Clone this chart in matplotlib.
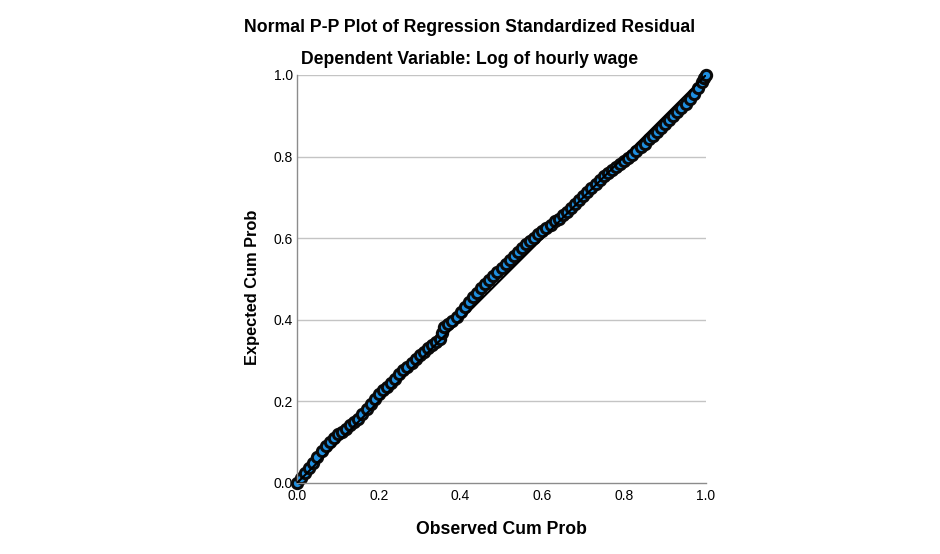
import matplotlib
matplotlib.use("Agg")
import matplotlib.pyplot as plt

plt.rcParams['font.family'] = ['Liberation Sans', 'DejaVu Sans']

title = "Normal P-P Plot of Regression Standardized Residual"
subtitle = "Dependent Variable: Log of hourly wage"
x_label = "Observed Cum Prob"
y_label = "Expected Cum Prob"
ticks = [0.0, 0.2, 0.4, 0.6, 0.8, 1.0]
tick_labels = ["0.0", "0.2", "0.4", "0.6", "0.8", "1.0"]

observed = [0.00, 0.01, 0.02, 0.03, 0.04, 0.05, 0.06, 0.07, 0.08, 0.09,
            0.10, 0.11, 0.12, 0.13, 0.14, 0.15, 0.16, 0.17, 0.18, 0.19,
            0.20, 0.21, 0.22, 0.23, 0.24, 0.25, 0.26, 0.27, 0.28, 0.29,
            0.30, 0.31, 0.32, 0.33, 0.34, 0.35, 0.355, 0.36, 0.37, 0.38, 0.39,
            0.40, 0.41, 0.42, 0.43, 0.44, 0.45, 0.46, 0.47, 0.48, 0.49,
            0.50, 0.51, 0.52, 0.53, 0.54, 0.55, 0.56, 0.57, 0.58, 0.59,
            0.60, 0.61, 0.62, 0.63, 0.64, 0.65, 0.66, 0.67, 0.68, 0.69,
            0.70, 0.71, 0.72, 0.73, 0.74, 0.75, 0.76, 0.77, 0.78, 0.79,
            0.80, 0.81, 0.82, 0.83, 0.84, 0.85, 0.86, 0.87, 0.88, 0.89,
            0.90, 0.91, 0.92, 0.93, 0.94, 0.95, 0.96, 0.97, 0.98, 0.99, 0.995, 1.00]
expected = [0.000, 0.013, 0.025, 0.037, 0.050, 0.064, 0.078, 0.090, 0.101, 0.110,
            0.119, 0.126, 0.133, 0.141, 0.149, 0.158, 0.169, 0.181, 0.193, 0.206,
            0.218, 0.227, 0.236, 0.245, 0.255, 0.266, 0.276, 0.285, 0.295, 0.305,
            0.314, 0.322, 0.330, 0.338, 0.345, 0.352, 0.368, 0.382, 0.390, 0.398, 0.408,
            0.420, 0.432, 0.444, 0.455, 0.466, 0.477, 0.487, 0.497, 0.507, 0.517,
            0.527, 0.537, 0.547, 0.557, 0.567, 0.577, 0.585, 0.593, 0.601, 0.610,
            0.618, 0.626, 0.633, 0.641, 0.648, 0.656, 0.664, 0.673, 0.683, 0.693,
            0.703, 0.713, 0.722, 0.732, 0.743, 0.752, 0.761, 0.768, 0.775, 0.783,
            0.790, 0.797, 0.805, 0.814, 0.823, 0.832, 0.842, 0.851, 0.861, 0.870,
            0.880, 0.890, 0.900, 0.909, 0.918, 0.928, 0.940, 0.953, 0.968, 0.982, 0.992, 1.000]

fig = plt.figure(figsize=(9.4, 5.54), dpi=100)
ax = fig.add_axes([297/940, 71/554, 409/940, 408/554])

ax.set_xlim(0, 1)
ax.set_ylim(0, 1)
for t in ticks[1:]:
    ax.axhline(t, color='#c4c4c4', lw=1.0, zorder=0)

ax.scatter(observed, expected, s=55, facecolor='#1f8fe0', edgecolor='#0a0a0a',
           linewidth=2.2, zorder=2, clip_on=False)
ax.plot([0, 1], [0, 1], color='black', lw=1.5, zorder=3)

ax.set_xticks(ticks)
ax.set_xticklabels(tick_labels)
ax.set_yticks(ticks)
ax.set_yticklabels(tick_labels)
ax.tick_params(length=0, labelsize=10, pad=4, colors='black')
ax.tick_params(axis='y', pad=3)
for side in ['top', 'right']:
    ax.spines[side].set_visible(False)
for side in ['left', 'bottom']:
    ax.spines[side].set_color('#8c8c8c')
    ax.spines[side].set_linewidth(1.0)

ax.set_xlabel(x_label, fontsize=12.7, fontweight='bold', labelpad=13)
ax.set_ylabel(y_label, fontsize=11.8, fontweight='bold', va='center')
ax.yaxis.set_label_coords((253 - 297) / 409, (483 - 287) / 408)

fig.text(470/940, 1 - 27/554, title, ha='center', va='center', fontsize=12.7, fontweight='bold')
fig.text(470/940, 1 - 60/554, subtitle, ha='center', va='center', fontsize=12.7, fontweight='bold')

fig.savefig("out.png", dpi=100)
